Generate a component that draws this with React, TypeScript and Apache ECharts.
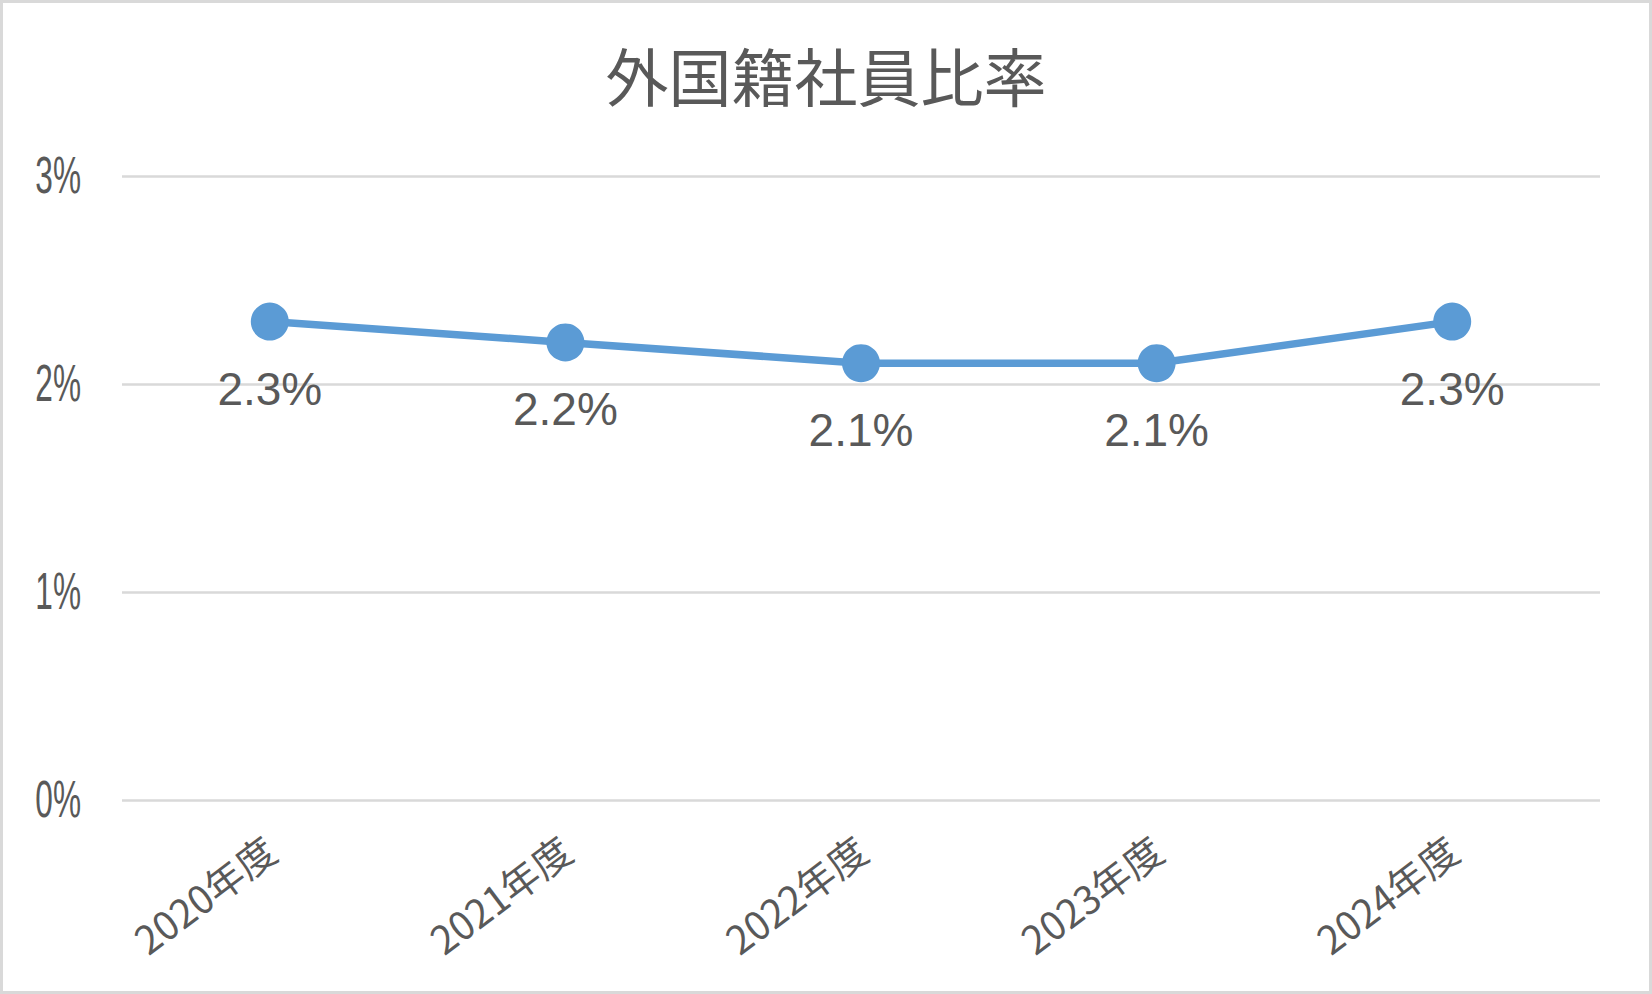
import React, { useEffect, useRef } from "react";
import * as echarts from "echarts";

const categories = ["2020年度", "2021年度", "2022年度", "2023年度", "2024年度"];
const ratios = [2.3, 2.2, 2.1, 2.1, 2.3];
const yMin = 0;
const yMax = 3;
const yInterval = 1;
const yTicks = [0, 1, 2, 3];
const titleText = "外国籍社員比率";

export default function App() {
  const ref = useRef<HTMLDivElement>(null);
  useEffect(() => {
    document.body.style.margin = "0";
    const chart = echarts.init(ref.current!, null, { renderer: "svg" });
    const border = {
      type: "rect",
      shape: { x: 1.5, y: 1.5, width: 1649, height: 991 },
      style: { fill: "none", stroke: "#D9D9D9", lineWidth: 3 },
      silent: true,
    };
    chart.setOption({
      animation: false,
      backgroundColor: "#ffffff",
      title: {
        text: titleText,
        left: "center",
        top: 37,
        textStyle: {
          fontFamily: "'Noto Sans CJK JP', sans-serif",
          fontSize: 63,
          fontWeight: "normal",
          color: "#595959",
        },
      },
      graphic: [border],
      grid: { left: 122, right: 52, top: 176, bottom: 194, containLabel: false },
      xAxis: {
        type: "category",
        data: categories,
        boundaryGap: true,
        axisLine: { show: false },
        axisTick: { show: false },
        axisLabel: {
          rotate: 37,
          margin: 44,
          fontSize: 39,
          color: "#595959",
          fontFamily: "'Noto Sans CJK JP', sans-serif",
        },
      },
      yAxis: {
        type: "value",
        min: yMin,
        max: yMax,
        interval: yInterval,
        axisLine: { show: false },
        axisTick: { show: false },
        splitLine: { lineStyle: { color: "#D9D9D9", width: 2.5 } },
        axisLabel: { show: false },
      },
      series: [
        {
          type: "line",
          data: ratios,
          symbol: "circle",
          symbolSize: 38,
          lineStyle: { color: "#5B9BD5", width: 7.5 },
          itemStyle: { color: "#5B9BD5" },
          label: {
            show: true,
            position: "bottom",
            distance: 25,
            formatter: (p: any) => `${Number(p.value).toFixed(1)}%`,
            fontSize: 46,
            color: "#595959",
            fontFamily: "'Liberation Sans', Arial, sans-serif",
          },
        },
      ],
    });
    // condensed y-axis tick labels placed through the axis scale
    const yLabels = yTicks.map((v) => {
      const py = chart.convertToPixel({ yAxisIndex: 0 }, v) as number;
      return {
        type: "text",
        x: 81,
        y: py,
        scaleX: 0.62,
        silent: true,
        style: {
          x: 0,
          y: 0,
          text: `${v}%`,
          fontSize: 51,
          fontFamily: "'Liberation Sans', Arial, sans-serif",
          fill: "#595959",
          align: "right",
          verticalAlign: "middle",
        },
      };
    });
    chart.setOption({ graphic: [border, ...yLabels] });
    return () => chart.dispose();
  }, []);
  return <div ref={ref} style={{ width: 1652, height: 994 }} />;
}
